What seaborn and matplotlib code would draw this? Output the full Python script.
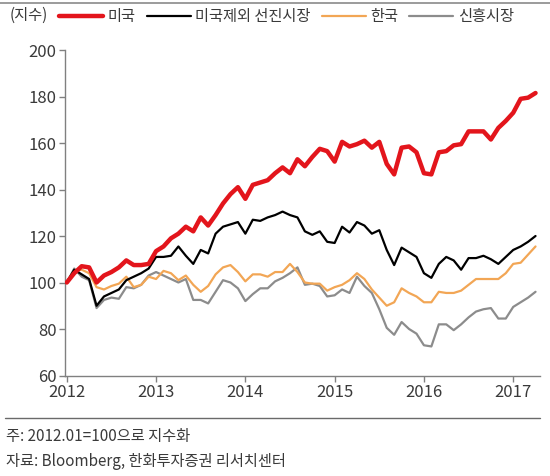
import numpy as np
import pandas as pd
import matplotlib
matplotlib.use("Agg")
import matplotlib.pyplot as plt
import seaborn as sns
from matplotlib.lines import Line2D

# ---- data (monthly, 2012.01 = 100) ----
series_names = ["미국", "미국제외 선진시장", "한국", "신흥시장"]
us = [100, 104, 107, 106.5, 100, 103, 104.5, 106.5, 109.5, 107.5, 107.5, 108,
      113.5, 115.5, 119, 121, 124, 122, 128, 124.5, 129, 134, 138, 141,
      136, 142, 143, 144, 147, 149.5, 147, 153, 150, 154, 157.5, 156.5,
      152, 160.5, 158.5, 159.5, 161, 158, 160.5, 151, 146.5, 158, 158.5, 156,
      147, 146.5, 156, 156.5, 159, 159.5, 165, 165, 165, 161.5, 166.5, 169.5,
      173, 179, 179.5, 181.5]
dev_ex_us = [100, 105.5, 103.5, 101.5, 90, 94, 95.5, 97, 101, 102.5, 104, 106,
             111, 111, 111.5, 115.5, 111.5, 108, 114, 112.5, 121, 124, 125, 126,
             121, 127, 126.5, 128, 129, 130.5, 129, 128, 122, 120.5, 122, 117.5,
             117, 124, 121.5, 126, 124.5, 121, 122.5, 114, 107.5, 115, 113, 111,
             104, 102, 108, 111, 109.5, 105.5, 110.5, 110.5, 111.5, 110, 108, 111,
             114, 115.5, 117.5, 120]
korea = [100, 105, 105.5, 104, 98, 97, 98.5, 99.5, 102.5, 98, 99, 102.5,
         101.5, 105, 104, 101, 103, 99, 96, 98.5, 103.5, 106.5, 107.5, 104.5,
         100.5, 103.5, 103.5, 102.5, 104.5, 104.5, 108, 104.5, 100, 99.5, 99.5, 96.5,
         98, 99, 101, 104, 101.5, 97, 93.5, 90, 91.5, 97.5, 95.5, 94,
         91.5, 91.5, 96, 95.5, 95.5, 96.5, 99, 101.5, 101.5, 101.5, 101.5, 104,
         108, 108.5, 112, 115.5]
emerging = [100, 106, 102.5, 101, 89, 92.5, 93.5, 93, 98, 97.5, 99, 103,
            104.5, 103, 101.5, 100, 101.5, 92.5, 92.5, 91, 96, 101, 100, 97.5,
            92, 95, 97.5, 97.5, 100.5, 102, 104, 106.5, 99, 99.5, 98.5, 94,
            94.5, 97, 95.5, 102.5, 98.5, 95.5, 88.5, 80.5, 77.5, 83, 80, 78,
            73, 72.5, 82, 82, 79.5, 82, 85, 87.5, 88.5, 89, 84.5, 84.5,
            89.5, 91.5, 93.5, 96]
start_year = 2012
year_ticks = [2012, 2013, 2014, 2015, 2016, 2017]
y_ticks = [60, 80, 100, 120, 140, 160, 180, 200]
unit_label = "(지수)"
note1 = "주: 2012.01=100으로 지수화"
note2 = "자료: Bloomberg, 한화투자증권 리서치센터"

colors = {"미국": "#e3151c", "미국제외 선진시장": "#000000",
          "한국": "#f2a655", "신흥시장": "#8c8c8c"}
widths = {"미국": 3.2, "미국제외 선진시장": 1.6, "한국": 1.6, "신흥시장": 1.6}

months = np.arange(len(us))
xyear = start_year + months / 12.0
frames = []
for name, vals in zip(series_names, [us, dev_ex_us, korea, emerging]):
    frames.append(pd.DataFrame({"x": xyear, "value": vals, "series": name}))
df = pd.concat(frames, ignore_index=True)

sns.set_theme(style="white")
plt.rcParams["font.family"] = ["Noto Sans CJK KR", "DejaVu Sans"]

fig = plt.figure(figsize=(5.5, 4.76), dpi=100)
ax = fig.add_axes([65 / 550, 1 - 375.5 / 476, 475 / 550, (375.5 - 50) / 476])

# draw in reverse so red is on top
for name in series_names[::-1]:
    sub = df[df["series"] == name]
    sns.lineplot(data=sub, x="x", y="value", ax=ax, color=colors[name],
                 linewidth=widths[name], legend=False, zorder=3 if name == "미국" else 2)

ax.set_xlim(2011.98, 2017.30)
ax.set_ylim(60, 200)
ax.set_xticks(year_ticks)
ax.set_xticklabels([str(y) for y in year_ticks])
ax.set_yticks(y_ticks)
ax.set_xlabel("")
ax.set_ylabel("")
for s in ["top", "right"]:
    ax.spines[s].set_visible(False)
for s in ["left", "bottom"]:
    ax.spines[s].set_color("#808080")
    ax.spines[s].set_linewidth(1.0)
ax.tick_params(axis="both", which="both", direction="out", length=4, width=1,
               color="#808080", labelsize=12, labelcolor="#3a3a3a", pad=2, bottom=True, left=True)

handles = [Line2D([0], [0], color=colors[n], lw=widths[n]) for n in series_names]
fig.legend(handles, series_names, loc="center left",
           bbox_to_anchor=(59 / 550, 1 - 17 / 476), ncol=4, frameon=False,
           handlelength=2.9, handletextpad=0.3, columnspacing=0.7,
           fontsize=11, labelcolor="#3a3a3a", borderpad=0, borderaxespad=0)
fig.text(10 / 550, 1 - 15 / 476, unit_label, fontsize=11, color="#3a3a3a",
         ha="left", va="center")

# decorative separator lines
fig.add_artist(Line2D([0, 1], [1 - 3 / 476, 1 - 3 / 476], color="#8a8a8a", lw=1.2,
                      transform=fig.transFigure))
fig.add_artist(Line2D([5 / 550, 540 / 550], [1 - 418 / 476, 1 - 418 / 476],
                      color="#6a6a6a", lw=1.0, transform=fig.transFigure))
fig.text(6 / 550, 1 - 436 / 476, note1, fontsize=11, color="#3a3a3a", ha="left", va="center")
fig.text(6 / 550, 1 - 462 / 476, note2, fontsize=11, color="#3a3a3a", ha="left", va="center")

fig.savefig("out.png", dpi=100)
